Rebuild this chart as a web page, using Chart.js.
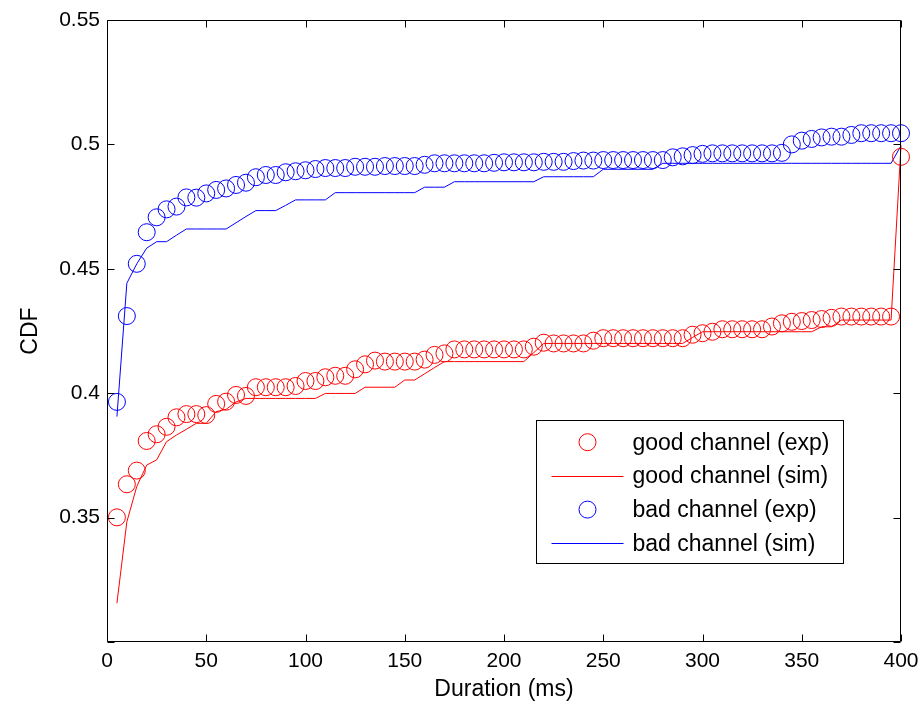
<!DOCTYPE html>
<html>
<head>
<meta charset="utf-8">
<script src="https://cdn.jsdelivr.net/npm/chart.js@4.4.1/dist/chart.umd.min.js"></script>
<style>
html,body{margin:0;padding:0;background:#ffffff;}
#wrap{width:922px;height:708px;position:relative;}
</style>
</head>
<body>
<div id="wrap"><canvas id="c" width="922" height="708"></canvas></div>
<script>
// ---- data ----
const durations = [5,10,15,20,25,30,35,40,45,50,55,60,65,70,75,80,85,90,95,100,
  105,110,115,120,125,130,135,140,145,150,155,160,165,170,175,180,185,190,195,200,
  205,210,215,220,225,230,235,240,245,250,255,260,265,270,275,280,285,290,295,300,
  305,310,315,320,325,330,335,340,345,350,355,360,365,370,375,380,385,390,395,400];

const goodExp = [0.3501,0.3634,0.3689,0.3808,0.3835,0.3865,0.3903,0.3916,0.3916,0.3912,
  0.3957,0.3966,0.3993,0.3989,0.4024,0.4024,0.4024,0.4024,0.4029,0.4049,
  0.4049,0.4064,0.4070,0.4070,0.4096,0.4116,0.4131,0.4127,0.4127,0.4127,
  0.4127,0.4135,0.4154,0.4160,0.4176,0.4176,0.4176,0.4176,0.4176,0.4176,
  0.4176,0.4176,0.4187,0.4203,0.4200,0.4200,0.4200,0.4200,0.4211,0.4221,
  0.4221,0.4221,0.4221,0.4221,0.4221,0.4221,0.4221,0.4221,0.4235,0.4241,
  0.4247,0.4257,0.4257,0.4257,0.4257,0.4257,0.4268,0.4281,0.4287,0.4290,
  0.4294,0.4298,0.4303,0.4308,0.4308,0.4308,0.4308,0.4308,0.4308,0.4950];

const goodSim = [0.3156,0.3483,0.3625,0.3711,0.3732,0.3805,0.3832,0.3855,0.3879,0.3879,
  0.3926,0.3935,0.3965,0.3979,0.3979,0.3979,0.3979,0.3979,0.3979,0.3979,
  0.3979,0.3999,0.3999,0.3999,0.3999,0.4024,0.4024,0.4024,0.4024,0.4053,
  0.4053,0.4078,0.4103,0.4127,0.4127,0.4127,0.4127,0.4127,0.4127,0.4127,
  0.4127,0.4127,0.4163,0.4200,0.4200,0.4200,0.4200,0.4200,0.4200,0.4200,
  0.4200,0.4200,0.4200,0.4200,0.4200,0.4200,0.4200,0.4200,0.4224,0.4247,
  0.4247,0.4247,0.4247,0.4247,0.4247,0.4247,0.4247,0.4247,0.4247,0.4247,
  0.4247,0.4267,0.4267,0.4294,0.4294,0.4294,0.4294,0.4294,0.4294,0.4995];

const badExp = [0.3965,0.4310,0.4520,0.4647,0.4707,0.4739,0.4750,0.4787,0.4786,0.4803,
  0.4817,0.4823,0.4837,0.4846,0.4868,0.4877,0.4877,0.4888,0.4892,0.4896,
  0.4901,0.4905,0.4905,0.4905,0.4910,0.4910,0.4910,0.4913,0.4913,0.4913,
  0.4913,0.4918,0.4924,0.4924,0.4924,0.4924,0.4924,0.4924,0.4926,0.4928,
  0.4928,0.4928,0.4928,0.4930,0.4930,0.4930,0.4933,0.4935,0.4935,0.4937,
  0.4937,0.4937,0.4937,0.4937,0.4937,0.4937,0.4948,0.4952,0.4957,0.4962,
  0.4964,0.4964,0.4964,0.4964,0.4964,0.4964,0.4964,0.4966,0.5000,0.5015,
  0.5022,0.5028,0.5031,0.5031,0.5038,0.5045,0.5045,0.5045,0.5045,0.5045];

const badSim = [0.3906,0.4442,0.4520,0.4583,0.4609,0.4609,0.4635,0.4660,0.4660,0.4660,
  0.4660,0.4660,0.4685,0.4710,0.4734,0.4734,0.4734,0.4755,0.4777,0.4777,
  0.4777,0.4777,0.4806,0.4806,0.4806,0.4806,0.4806,0.4806,0.4806,0.4806,
  0.4806,0.4828,0.4828,0.4828,0.4850,0.4850,0.4850,0.4850,0.4850,0.4850,
  0.4850,0.4850,0.4850,0.4870,0.4870,0.4870,0.4870,0.4870,0.4870,0.4900,
  0.4900,0.4900,0.4900,0.4900,0.4900,0.4924,0.4924,0.4924,0.4924,0.4924,
  0.4924,0.4924,0.4924,0.4924,0.4924,0.4924,0.4924,0.4924,0.4924,0.4924,
  0.4924,0.4924,0.4924,0.4924,0.4924,0.4924,0.4924,0.4924,0.4924,0.4995];

const xTickValues = [0,50,100,150,200,250,300,350,400];
const xTickLabels = ['0','50','100','150','200','250','300','350','400'];
const yTickValues = [0.3,0.35,0.4,0.45,0.5,0.55];
const yTickLabels = ['','0.35','0.4','0.45','0.5','0.55'];
const seriesLabels = ['good channel (exp)','good channel (sim)','bad channel (exp)','bad channel (sim)'];
const xTitle = 'Duration (ms)';
const yTitle = 'CDF';

// ---- styling ----
const FONT = "'Liberation Sans', Arial, Helvetica, sans-serif";
const RED = '#ff0000';
const BLUE = '#0000ff';
const MARKER_R = 8.5;

function pts(ys){ return durations.map((x,i)=>({x:x, y:ys[i]})); }

const matlabAxes = {
  id: 'matlabAxes',
  afterDatasetsDraw(chart){
    const {ctx, chartArea:a, scales:{x, y}} = chart;
    const L = 7;
    ctx.save();
    ctx.strokeStyle = '#000';
    ctx.lineWidth = 1;
    ctx.beginPath();
    const l = Math.round(a.left)+0.5, r = Math.round(a.right)-0.5;
    const t = Math.round(a.top)+0.5, b = Math.round(a.bottom)-0.5;
    ctx.moveTo(l,t); ctx.lineTo(r,t); ctx.lineTo(r,b); ctx.lineTo(l,b); ctx.closePath();
    x.ticks.forEach(tk=>{
      const px = Math.round(x.getPixelForValue(tk.value))+0.5;
      ctx.moveTo(px,b); ctx.lineTo(px,b-L);
      ctx.moveTo(px,t); ctx.lineTo(px,t+L);
    });
    y.ticks.forEach(tk=>{
      const py = Math.round(y.getPixelForValue(tk.value))+0.5;
      ctx.moveTo(l,py); ctx.lineTo(l+L,py);
      ctx.moveTo(r,py); ctx.lineTo(r-L,py);
    });
    ctx.stroke();
    ctx.restore();
  }
};

const boxLegend = {
  id: 'boxLegend',
  afterDraw(chart, args, o){
    const {ctx, chartArea:a} = chart;
    const left = Math.round(a.right - o.right - o.width)+0.5;
    const top = Math.round(a.bottom - o.bottom - o.height)+0.5;
    ctx.save();
    ctx.fillStyle = '#fff';
    ctx.fillRect(left, top, o.width, o.height);
    ctx.strokeStyle = '#000';
    ctx.lineWidth = 1;
    ctx.strokeRect(left, top, o.width, o.height);
    ctx.font = o.fontSize + 'px ' + FONT;
    ctx.textBaseline = 'middle';
    ctx.textAlign = 'left';
    chart.data.datasets.forEach((ds, i)=>{
      const cy = top + o.firstRow + i*o.rowStep;
      ctx.strokeStyle = ds.borderColor;
      ctx.lineWidth = 1;
      if (ds.showLine === false) {
        ctx.beginPath();
        ctx.arc(left + o.symbolX, cy, MARKER_R, 0, Math.PI*2);
        ctx.stroke();
      } else {
        ctx.beginPath();
        ctx.moveTo(left + o.lineX0, Math.round(cy)+0.5);
        ctx.lineTo(left + o.lineX1, Math.round(cy)+0.5);
        ctx.stroke();
      }
      ctx.fillStyle = '#000';
      ctx.fillText(ds.label, left + o.textX, cy + 1);
    });
    ctx.restore();
  }
};

const markerSet = (label, ys, color) => ({
  label, data: pts(ys), showLine:false, borderColor: color,
  backgroundColor:'rgba(0,0,0,0)', pointBackgroundColor:'rgba(0,0,0,0)',
  pointBorderColor: color, pointBorderWidth:1, pointRadius: MARKER_R,
  pointHoverRadius: MARKER_R, pointStyle:'circle', clip:false
});
const lineSet = (label, ys, color) => ({
  label, data: pts(ys), showLine:true, borderColor: color, borderWidth:1,
  backgroundColor: color, pointRadius:0, pointHoverRadius:0, tension:0, fill:false, clip:false
});

new Chart(document.getElementById('c'), {
  type: 'scatter',
  data: {
    datasets: [
      markerSet(seriesLabels[0], goodExp, RED),
      lineSet(seriesLabels[1], goodSim, RED),
      markerSet(seriesLabels[2], badExp, BLUE),
      lineSet(seriesLabels[3], badSim, BLUE)
    ]
  },
  options: {
    responsive:false,
    animation:false,
    events:[],
    layout:{padding:{left:0, right:21, top:20, bottom:0}},
    plugins:{
      legend:{display:false},
      tooltip:{enabled:false},
      boxLegend:{width:307, height:143, right:58, bottom:79, firstRow:21.7, rowStep:33.7,
                 symbolX:51, lineX0:15, lineX1:87, textX:96, fontSize:23}
    },
    scales:{
      x:{
        type:'linear', min:0, max:400,
        afterBuildTicks: s => { s.ticks = xTickValues.map(v=>({value:v})); },
        afterFit: s => { s.height = 66; s.paddingLeft = 0; s.paddingRight = 0; },
        grid:{display:false, drawTicks:false},
        border:{display:false},
        ticks:{color:'#000', font:{family:FONT, size:21}, padding:7, maxRotation:0, autoSkip:false,
               callback:(v,i)=>xTickLabels[i]},
        title:{display:true, text:xTitle, color:'#000', font:{family:FONT, size:23}, padding:{top:0,bottom:5}}
      },
      y:{
        type:'linear', min:0.3, max:0.55,
        afterBuildTicks: s => { s.ticks = yTickValues.map(v=>({value:v})); },
        afterFit: s => { s.width = 107; s.paddingTop = 0; s.paddingBottom = 0; },
        grid:{display:false, drawTicks:false},
        border:{display:false},
        ticks:{color:'#000', font:{family:FONT, size:21}, padding:7, autoSkip:false,
               callback:(v,i)=>yTickLabels[i]},
        title:{display:true, text:yTitle, color:'#000', font:{family:FONT, size:23}, padding:{top:17,bottom:0}}
      }
    }
  },
  plugins:[matlabAxes, boxLegend]
});
</script>
</body>
</html>
